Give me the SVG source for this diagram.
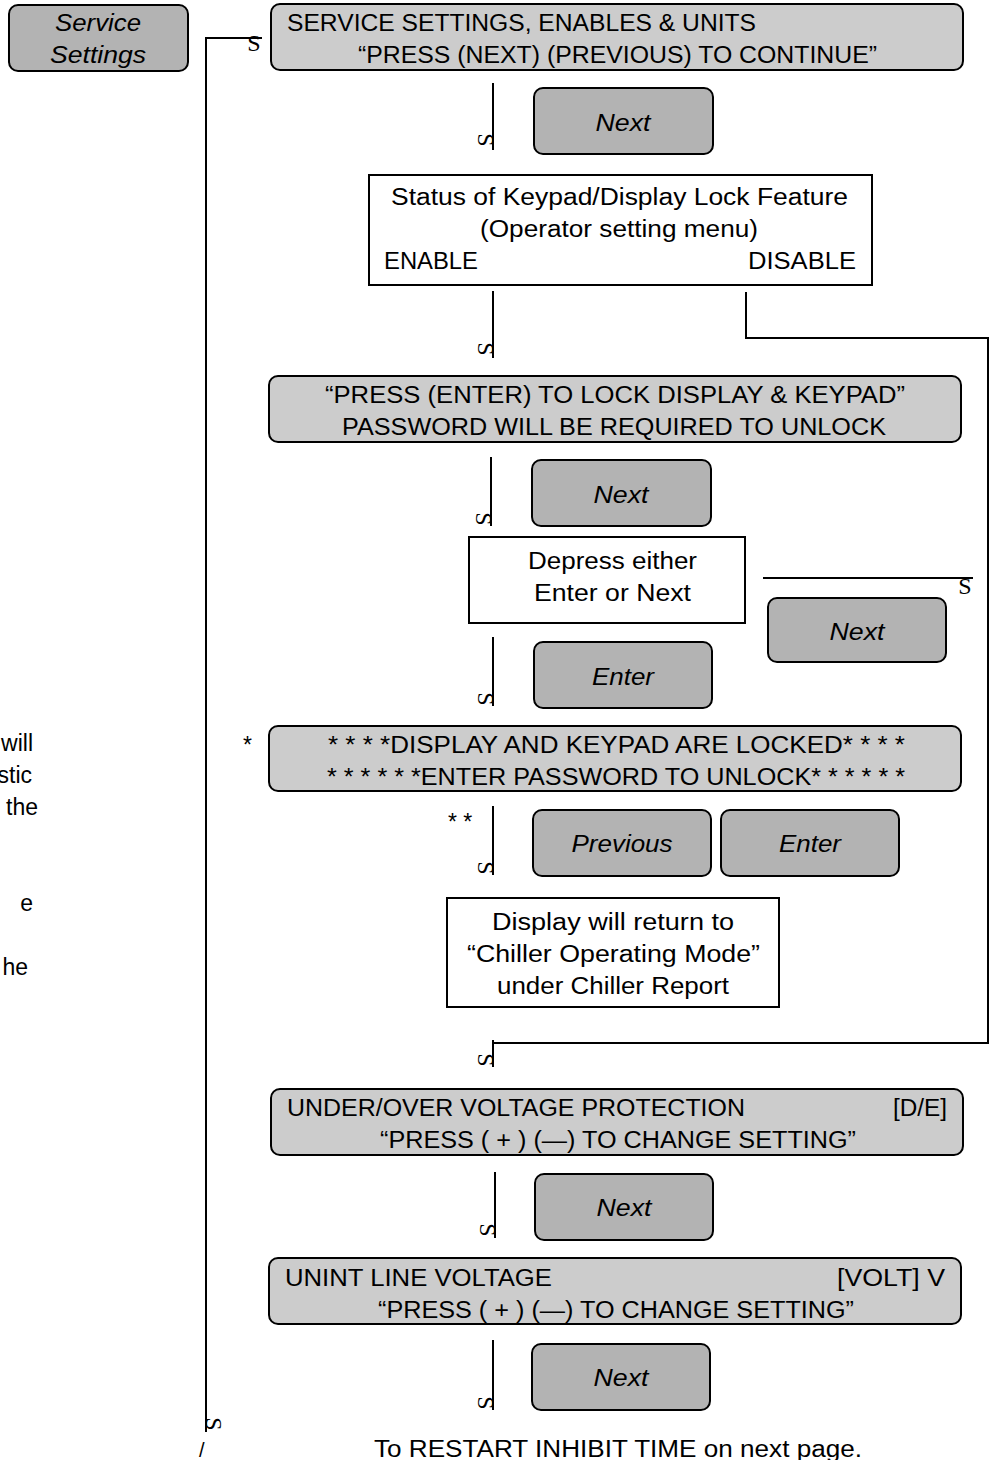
<svg xmlns="http://www.w3.org/2000/svg" width="990" height="1460" viewBox="0 0 990 1460">
<style>
.t{font-family:"Liberation Sans",Arial,sans-serif;font-size:23px;fill:#000}
.b{font-family:"Liberation Sans",Arial,sans-serif;font-size:24px;font-style:italic;fill:#000;text-anchor:middle}
.m{text-anchor:middle}
.e{text-anchor:end}
.scr{fill:#cccccc;stroke:#000;stroke-width:2}
.btn{fill:#b3b3b3;stroke:#000;stroke-width:2}
.box{fill:#fff;stroke:#000;stroke-width:2}
.ln{fill:none;stroke:#000;stroke-width:2}
.s{font-family:"Liberation Serif","Times New Roman",serif;font-size:24px;fill:#000;text-anchor:middle;dominant-baseline:central}
</style>
<rect width="990" height="1460" fill="#fff"/>

<g id="connectors">
<polyline class="ln" points="206,1432 206,38 262,38"/>
<text class="s" x="254" y="43">S</text>
<text class="s" transform="translate(214,1424) rotate(90)" x="0" y="0">S</text>
<text class="t" x="199" y="1457" style="font-size:20px">/</text>

<line class="ln" x1="493" y1="83" x2="493" y2="150"/>
<text class="s" transform="translate(486,140) rotate(90)">S</text>

<line class="ln" x1="493" y1="291" x2="493" y2="358"/>
<text class="s" transform="translate(486,349) rotate(90)">S</text>
<polyline class="ln" points="746,292 746,338 988,338 988,1043 493,1043"/>

<line class="ln" x1="491" y1="457" x2="491" y2="526"/>
<text class="s" transform="translate(484,519) rotate(90)">S</text>

<line class="ln" x1="763" y1="578" x2="973" y2="578"/>
<text class="s" x="965" y="586">S</text>

<line class="ln" x1="493" y1="637" x2="493" y2="706"/>
<text class="s" transform="translate(486,699) rotate(90)">S</text>

<line class="ln" x1="493" y1="806" x2="493" y2="875"/>
<text class="s" transform="translate(486,868) rotate(90)">S</text>

<line class="ln" x1="493" y1="1040" x2="493" y2="1067"/>
<text class="s" transform="translate(486,1060) rotate(90)">S</text>

<line class="ln" x1="495" y1="1172" x2="495" y2="1238"/>
<text class="s" transform="translate(488,1230) rotate(90)">S</text>

<line class="ln" x1="493" y1="1340" x2="493" y2="1410"/>
<text class="s" transform="translate(486,1403) rotate(90)">S</text>
</g>

<g id="service-settings-btn">
<rect class="btn" x="9" y="5" width="179" height="66" rx="9"/>
<text class="b" x="98" y="31" textLength="86" lengthAdjust="spacingAndGlyphs">Service</text>
<text class="b" x="98" y="63" textLength="96" lengthAdjust="spacingAndGlyphs">Settings</text>
</g>

<g id="screen-service-settings">
<rect class="scr" x="271" y="4" width="692" height="66" rx="9"/>
<text class="t" x="287" y="31" textLength="469" lengthAdjust="spacingAndGlyphs">SERVICE SETTINGS, ENABLES &amp; UNITS</text>
<text class="t" x="358" y="63" textLength="519" lengthAdjust="spacingAndGlyphs">“PRESS (NEXT) (PREVIOUS) TO CONTINUE”</text>
</g>

<g id="next-1">
<rect class="btn" x="534" y="88" width="179" height="66" rx="9"/>
<text class="b" x="623" y="131" textLength="55" lengthAdjust="spacingAndGlyphs">Next</text>
</g>

<g id="lock-status">
<rect class="box" x="369" y="175" width="503" height="110"/>
<text class="t" x="391" y="205" textLength="457" lengthAdjust="spacingAndGlyphs">Status of Keypad/Display Lock Feature</text>
<text class="t" x="480" y="237" textLength="278" lengthAdjust="spacingAndGlyphs">(Operator setting menu)</text>
<text class="t" x="384" y="269" textLength="94" lengthAdjust="spacingAndGlyphs">ENABLE</text>
<text class="t" x="748" y="269" textLength="108" lengthAdjust="spacingAndGlyphs">DISABLE</text>
</g>

<g id="screen-lock">
<rect class="scr" x="269" y="376" width="692" height="66" rx="9"/>
<text class="t" x="325" y="403" textLength="580" lengthAdjust="spacingAndGlyphs">“PRESS (ENTER) TO LOCK DISPLAY &amp; KEYPAD”</text>
<text class="t" x="342" y="435" textLength="544" lengthAdjust="spacingAndGlyphs">PASSWORD WILL BE REQUIRED TO UNLOCK</text>
</g>

<g id="next-2">
<rect class="btn" x="532" y="460" width="179" height="66" rx="9"/>
<text class="b" x="621" y="503" textLength="55" lengthAdjust="spacingAndGlyphs">Next</text>
</g>

<g id="depress">
<rect class="box" x="469" y="537" width="276" height="86"/>
<text class="t" x="528" y="569" textLength="169" lengthAdjust="spacingAndGlyphs">Depress either</text>
<text class="t" x="534" y="601" textLength="157" lengthAdjust="spacingAndGlyphs">Enter or Next</text>
</g>

<g id="next-3">
<rect class="btn" x="768" y="598" width="178" height="64" rx="9"/>
<text class="b" x="857" y="640" textLength="55" lengthAdjust="spacingAndGlyphs">Next</text>
</g>

<g id="enter-1">
<rect class="btn" x="534" y="642" width="178" height="66" rx="9"/>
<text class="b" x="623" y="685" textLength="62" lengthAdjust="spacingAndGlyphs">Enter</text>
</g>

<g id="screen-locked">
<rect class="scr" x="269" y="726" width="692" height="65" rx="9"/>
<text class="t" x="328" y="753" textLength="577" lengthAdjust="spacingAndGlyphs">* * * *DISPLAY AND KEYPAD ARE LOCKED* * * *</text>
<text class="t" x="327" y="785" textLength="578" lengthAdjust="spacingAndGlyphs">* * * * * *ENTER PASSWORD TO UNLOCK* * * * * *</text>
<text class="t" x="243" y="753">*</text>
<text class="t" x="448" y="830">* *</text>
</g>

<g id="previous">
<rect class="btn" x="533" y="810" width="178" height="66" rx="9"/>
<text class="b" x="622" y="852" textLength="101" lengthAdjust="spacingAndGlyphs">Previous</text>
</g>

<g id="enter-2">
<rect class="btn" x="721" y="810" width="178" height="66" rx="9"/>
<text class="b" x="810" y="852" textLength="62" lengthAdjust="spacingAndGlyphs">Enter</text>
</g>

<g id="display-return">
<rect class="box" x="447" y="898" width="332" height="109"/>
<text class="t" x="492" y="930" textLength="242" lengthAdjust="spacingAndGlyphs">Display will return to</text>
<text class="t" x="467" y="962" textLength="293" lengthAdjust="spacingAndGlyphs">“Chiller Operating Mode”</text>
<text class="t" x="497" y="994" textLength="232" lengthAdjust="spacingAndGlyphs">under Chiller Report</text>
</g>

<g id="screen-voltage-protection">
<rect class="scr" x="271" y="1089" width="692" height="66" rx="9"/>
<text class="t" x="287" y="1116" textLength="458" lengthAdjust="spacingAndGlyphs">UNDER/OVER VOLTAGE PROTECTION</text>
<text class="t" x="893" y="1116" textLength="54" lengthAdjust="spacingAndGlyphs">[D/E]</text>
<text class="t" x="380" y="1148" textLength="476" lengthAdjust="spacingAndGlyphs">“PRESS ( + ) (—) TO CHANGE SETTING”</text>
</g>

<g id="next-4">
<rect class="btn" x="535" y="1174" width="178" height="66" rx="9"/>
<text class="b" x="624" y="1216" textLength="55" lengthAdjust="spacingAndGlyphs">Next</text>
</g>

<g id="screen-line-voltage">
<rect class="scr" x="269" y="1258" width="692" height="66" rx="9"/>
<text class="t" x="285" y="1286" textLength="267" lengthAdjust="spacingAndGlyphs">UNINT LINE VOLTAGE</text>
<text class="t" x="837" y="1286" textLength="108" lengthAdjust="spacingAndGlyphs">[VOLT] V</text>
<text class="t" x="378" y="1318" textLength="476" lengthAdjust="spacingAndGlyphs">“PRESS ( + ) (—) TO CHANGE SETTING”</text>
</g>

<g id="next-5">
<rect class="btn" x="532" y="1344" width="178" height="66" rx="9"/>
<text class="b" x="621" y="1386" textLength="55" lengthAdjust="spacingAndGlyphs">Next</text>
</g>

<g id="footer">
<text class="t" x="374" y="1457" textLength="488" lengthAdjust="spacingAndGlyphs">To RESTART INHIBIT TIME on next page.</text>
</g>

<g id="side-notes">
<text class="t e" x="33" y="751">will</text>
<text class="t e" x="32" y="783">stic</text>
<text class="t e" x="38" y="815">the</text>
<text class="t e" x="33" y="911">e</text>
<text class="t e" x="28" y="975">he</text>
</g>
</svg>
